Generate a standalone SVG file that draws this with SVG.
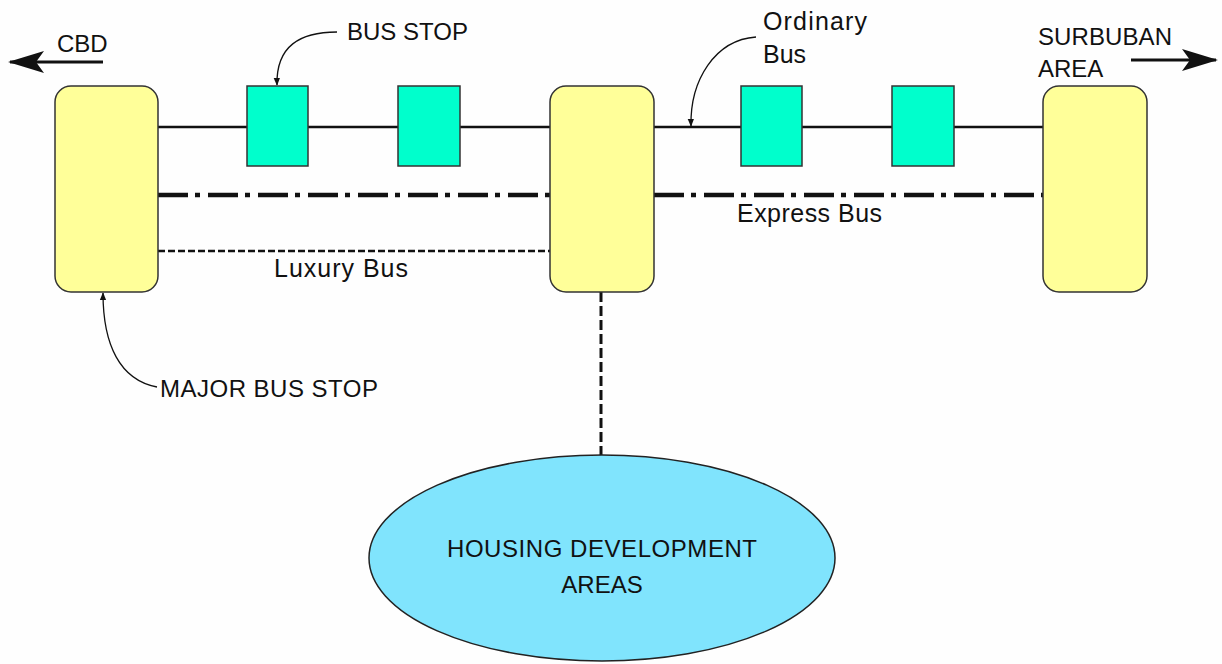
<svg xmlns="http://www.w3.org/2000/svg" width="1222" height="664" viewBox="0 0 1222 664">
<defs>
<style>
text{font-family:"Liberation Sans",Arial,sans-serif;font-size:24px;fill:#111}
.lc{font-size:25px}
.major{fill:#FFFF99;stroke:#333;stroke-width:1.5}
.stop{fill:#00FFCC;stroke:#333;stroke-width:1.5}
.area{fill:#80E4FD;stroke:#222;stroke-width:1.5}
.solid{stroke:#111;stroke-width:2.5;fill:none}
.express{stroke:#111;stroke-width:4.5;fill:none;stroke-dasharray:30 7 5 8}
.luxury{stroke:#111;stroke-width:2.5;fill:none;stroke-dasharray:7 3}
.feeder{stroke:#111;stroke-width:3;fill:none;stroke-dasharray:10 4}
.callout{stroke:#111;stroke-width:1.3;fill:none;marker-end:url(#small)}
.dir{stroke:#111;stroke-width:3;fill:none;marker-end:url(#big)}
</style>
<marker id="small" viewBox="0 0 10 10" refX="9" refY="5" markerWidth="8" markerHeight="8" markerUnits="userSpaceOnUse" orient="auto">
<path d="M0,1 L10,5 L0,9 Z" fill="#111"/>
</marker>
<marker id="big" viewBox="0 0 36 22" refX="34" refY="11" markerWidth="36" markerHeight="22" markerUnits="userSpaceOnUse" orient="auto">
<path d="M0,0 L36,11 L0,22 L8,11 Z" fill="#111"/>
</marker>
</defs>
<rect width="1222" height="664" fill="#FEFEFE"/>
<g id="connectors">
<line class="solid" x1="158" y1="127" x2="1043" y2="127"/>
<line class="express" x1="158" y1="195" x2="550" y2="195"/>
<line class="express" x1="654" y1="195" x2="1043" y2="195"/>
<line class="luxury" x1="158" y1="251" x2="550" y2="251"/>
<line class="feeder" x1="601" y1="292" x2="601" y2="456"/>
<path class="callout" d="M337,32 C300,32 276,46 277,85"/>
<path class="callout" d="M756,37 C715,40 690,80 691,126"/>
<path class="callout" d="M157,387 C120,380 103,345 103,293"/>
<path class="dir" d="M103,62 L10,62"/>
<path class="dir" d="M1131,60 L1216,60"/>
</g>
<g id="major-cbd"><rect class="major" x="55" y="86" width="103" height="206" rx="16"/></g>
<g id="stop1"><rect class="stop" x="247" y="86" width="61" height="80"/></g>
<g id="stop2"><rect class="stop" x="398" y="86" width="62" height="80"/></g>
<g id="major-mid"><rect class="major" x="550" y="86" width="104" height="206" rx="16"/></g>
<g id="stop3"><rect class="stop" x="741" y="86" width="61" height="80"/></g>
<g id="stop4"><rect class="stop" x="892" y="86" width="62" height="80"/></g>
<g id="major-suburban"><rect class="major" x="1043" y="86" width="104" height="206" rx="16"/></g>
<g id="housing">
<ellipse class="area" cx="602" cy="558" rx="233" ry="103"/>
<text x="602" y="557" text-anchor="middle" textLength="310">HOUSING DEVELOPMENT</text>
<text x="602" y="593" text-anchor="middle">AREAS</text>
</g>
<g id="labels">
<text x="57" y="52">CBD</text>
<text x="347" y="40">BUS STOP</text>
<text class="lc" x="763" y="30" textLength="104">Ordinary</text>
<text class="lc" x="763" y="63">Bus</text>
<text x="1038" y="45" textLength="134">SURBUBAN</text>
<text x="1038" y="77">AREA</text>
<text class="lc" x="737" y="222" textLength="145">Express Bus</text>
<text class="lc" x="274" y="277" textLength="134">Luxury Bus</text>
<text x="160" y="397" textLength="218">MAJOR BUS STOP</text>
</g>
</svg>
